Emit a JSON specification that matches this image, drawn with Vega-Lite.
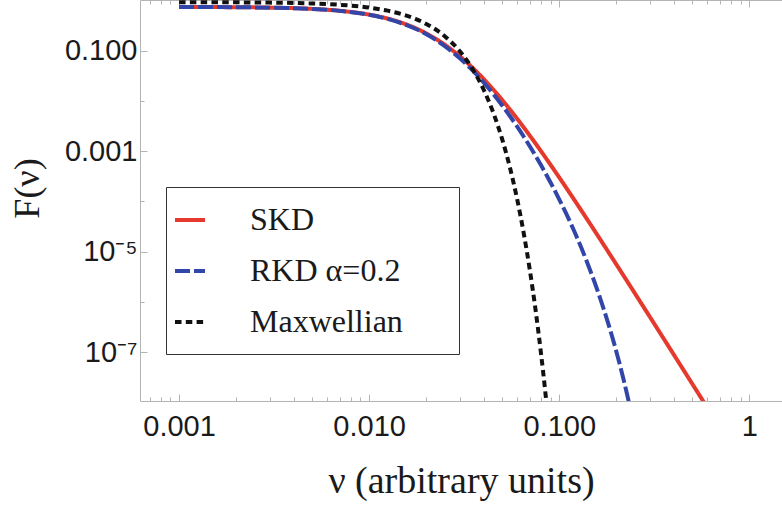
{
  "$schema": "https://vega.github.io/schema/vega-lite/v6.json",
  "autosize": {"type": "none"},
  "width": 642,
  "height": 401,
  "padding": {"left": 140, "top": 0, "right": 0, "bottom": 108},
  "background": "white",
  "config": {
    "view": {"stroke": null},
    "axis": {
      "domainColor": "#b4b4b4",
      "tickColor": "#b4b4b4",
      "grid": false,
      "labelFont": "Liberation Sans",
      "labelFontSize": 29,
      "labelColor": "#1a1a1a",
      "titleFont": "Liberation Serif",
      "titleFontWeight": "normal",
      "titleColor": "#1a1a1a"
    },
    "legend": {
      "orient": "none",
      "legendX": 26,
      "legendY": 187,
      "padding": 16,
      "strokeColor": "#333333",
      "fillColor": "white",
      "symbolType": "stroke",
      "symbolSize": 900,
      "symbolStrokeWidth": 4,
      "symbolOffset": -9,
      "labelFont": "Liberation Serif",
      "labelFontSize": 32,
      "labelColor": "#1a1a1a",
      "labelOffset": 43,
      "rowPadding": 18,
      "labelLimit": 400
    }
  },
  "datasets": {
    "curves": [
      {"v": 0.001, "F": 0.7372, "s": "SKD"},
      {"v": 0.002, "F": 0.7290, "s": "SKD"},
      {"v": 0.003, "F": 0.7156, "s": "SKD"},
      {"v": 0.005, "F": 0.6747, "s": "SKD"},
      {"v": 0.007, "F": 0.6191, "s": "SKD"},
      {"v": 0.01, "F": 0.5197, "s": "SKD"},
      {"v": 0.0125, "F": 0.4333, "s": "SKD"},
      {"v": 0.015, "F": 0.3518, "s": "SKD"},
      {"v": 0.0175, "F": 0.2799, "s": "SKD"},
      {"v": 0.02, "F": 0.2193, "s": "SKD"},
      {"v": 0.025, "F": 0.1309, "s": "SKD"},
      {"v": 0.03, "F": 0.07712, "s": "SKD"},
      {"v": 0.035, "F": 0.04563, "s": "SKD"},
      {"v": 0.04, "F": 0.02741, "s": "SKD"},
      {"v": 0.045, "F": 0.01681, "s": "SKD"},
      {"v": 0.05, "F": 0.010544, "s": "SKD"},
      {"v": 0.055, "F": 0.00677, "s": "SKD"},
      {"v": 0.06, "F": 0.004448, "s": "SKD"},
      {"v": 0.065, "F": 0.002986, "s": "SKD"},
      {"v": 0.07, "F": 0.0020454, "s": "SKD"},
      {"v": 0.075, "F": 0.0014285, "s": "SKD"},
      {"v": 0.08, "F": 0.0010151, "s": "SKD"},
      {"v": 0.085, "F": 0.0007331, "s": "SKD"},
      {"v": 0.09, "F": 0.0005374, "s": "SKD"},
      {"v": 0.1, "F": 0.00030077, "s": "SKD"},
      {"v": 0.12, "F": 0.00010789, "s": "SKD"},
      {"v": 0.14, "F": 4.4629e-5, "s": "SKD"},
      {"v": 0.16, "F": 2.0591e-5, "s": "SKD"},
      {"v": 0.18, "F": 1.0354e-5, "s": "SKD"},
      {"v": 0.2, "F": 5.5786e-6, "s": "SKD"},
      {"v": 0.25, "F": 1.4938e-6, "s": "SKD"},
      {"v": 0.3, "F": 5.061e-7, "s": "SKD"},
      {"v": 0.35, "F": 2.0212e-7, "s": "SKD"},
      {"v": 0.4, "F": 9.113e-8, "s": "SKD"},
      {"v": 0.5, "F": 2.4017e-8, "s": "SKD"},
      {"v": 0.6, "F": 8.067e-9, "s": "SKD"},
      {"v": 0.001, "F": 0.7372, "s": "RKD α=0.2"},
      {"v": 0.002, "F": 0.7287, "s": "RKD α=0.2"},
      {"v": 0.003, "F": 0.7149, "s": "RKD α=0.2"},
      {"v": 0.005, "F": 0.6731, "s": "RKD α=0.2"},
      {"v": 0.007, "F": 0.6161, "s": "RKD α=0.2"},
      {"v": 0.01, "F": 0.5146, "s": "RKD α=0.2"},
      {"v": 0.0125, "F": 0.4266, "s": "RKD α=0.2"},
      {"v": 0.015, "F": 0.344, "s": "RKD α=0.2"},
      {"v": 0.0175, "F": 0.2714, "s": "RKD α=0.2"},
      {"v": 0.02, "F": 0.2107, "s": "RKD α=0.2"},
      {"v": 0.025, "F": 0.123, "s": "RKD α=0.2"},
      {"v": 0.03, "F": 0.07048, "s": "RKD α=0.2"},
      {"v": 0.035, "F": 0.04037, "s": "RKD α=0.2"},
      {"v": 0.04, "F": 0.02336, "s": "RKD α=0.2"},
      {"v": 0.045, "F": 0.01373, "s": "RKD α=0.2"},
      {"v": 0.05, "F": 0.008212, "s": "RKD α=0.2"},
      {"v": 0.055, "F": 0.005003, "s": "RKD α=0.2"},
      {"v": 0.06, "F": 0.003103, "s": "RKD α=0.2"},
      {"v": 0.065, "F": 0.001957, "s": "RKD α=0.2"},
      {"v": 0.07, "F": 0.0012531, "s": "RKD α=0.2"},
      {"v": 0.075, "F": 0.0008139, "s": "RKD α=0.2"},
      {"v": 0.08, "F": 0.0005352, "s": "RKD α=0.2"},
      {"v": 0.085, "F": 0.000356, "s": "RKD α=0.2"},
      {"v": 0.09, "F": 0.0002391, "s": "RKD α=0.2"},
      {"v": 0.1, "F": 0.00011065, "s": "RKD α=0.2"},
      {"v": 0.12, "F": 2.556e-5, "s": "RKD α=0.2"},
      {"v": 0.14, "F": 6.286e-6, "s": "RKD α=0.2"},
      {"v": 0.16, "F": 1.5918e-6, "s": "RKD α=0.2"},
      {"v": 0.18, "F": 4.055e-7, "s": "RKD α=0.2"},
      {"v": 0.2, "F": 1.0218e-7, "s": "RKD α=0.2"},
      {"v": 0.22, "F": 2.5155e-8, "s": "RKD α=0.2"},
      {"v": 0.24, "F": 5.994e-9, "s": "RKD α=0.2"},
      {"v": 0.001, "F": 0.9177, "s": "Maxwellian"},
      {"v": 0.002, "F": 0.9108, "s": "Maxwellian"},
      {"v": 0.003, "F": 0.8995, "s": "Maxwellian"},
      {"v": 0.005, "F": 0.8643, "s": "Maxwellian"},
      {"v": 0.007, "F": 0.8139, "s": "Maxwellian"},
      {"v": 0.01, "F": 0.7165, "s": "Maxwellian"},
      {"v": 0.0125, "F": 0.6225, "s": "Maxwellian"},
      {"v": 0.015, "F": 0.5242, "s": "Maxwellian"},
      {"v": 0.0175, "F": 0.4279, "s": "Maxwellian"},
      {"v": 0.02, "F": 0.3384, "s": "Maxwellian"},
      {"v": 0.025, "F": 0.1928, "s": "Maxwellian"},
      {"v": 0.03, "F": 0.09697, "s": "Maxwellian"},
      {"v": 0.035, "F": 0.04303, "s": "Maxwellian"},
      {"v": 0.04, "F": 0.01685, "s": "Maxwellian"},
      {"v": 0.045, "F": 0.005824, "s": "Maxwellian"},
      {"v": 0.05, "F": 0.001776, "s": "Maxwellian"},
      {"v": 0.055, "F": 0.000478, "s": "Maxwellian"},
      {"v": 0.06, "F": 0.00011354, "s": "Maxwellian"},
      {"v": 0.065, "F": 2.379e-5, "s": "Maxwellian"},
      {"v": 0.07, "F": 4.402e-6, "s": "Maxwellian"},
      {"v": 0.075, "F": 7.18e-7, "s": "Maxwellian"},
      {"v": 0.08, "F": 1.0354e-7, "s": "Maxwellian"},
      {"v": 0.085, "F": 1.317e-8, "s": "Maxwellian"},
      {"v": 0.087, "F": 5.57e-9, "s": "Maxwellian"}
    ],
    "topaxis": [{"v": 0.001}]
  },
  "resolve": {"axis": {"x": "independent"}},
  "layer": [
    {
      "data": {"name": "curves"},
      "mark": {"type": "line", "clip": true, "strokeWidth": 4, "strokeCap": "butt", "interpolate": "monotone"},
      "encoding": {
        "x": {
          "field": "v", "type": "quantitative",
          "scale": {"type": "log", "domain": [0.000623, 1.486], "nice": false},
          "axis": {
            "orient": "bottom",
            "title": "ν (arbitrary units)",
            "titleFontSize": 38,
            "titlePadding": 18,
            "values": [0.0007, 0.0008, 0.0009, 0.001, 0.002, 0.003, 0.004, 0.005, 0.006, 0.007, 0.008, 0.009, 0.01, 0.02, 0.03, 0.04, 0.05, 0.06, 0.07, 0.08, 0.09, 0.1, 0.2, 0.3, 0.4, 0.5, 0.6, 0.7, 0.8, 0.9, 1],
            "labelExpr": "datum.value == 0.001 ? '0.001' : datum.value == 0.01 ? '0.010' : datum.value == 0.1 ? '0.100' : datum.value == 1 ? '1' : ''",
            "tickSize": {"condition": {"test": "indexof([0.001, 0.01, 0.1, 1], datum.value) >= 0", "value": -7}, "value": -4},
            "labelPadding": 18,
            "labelFlush": false,
            "labelOverlap": false
          }
        },
        "y": {
          "field": "F", "type": "quantitative",
          "scale": {"type": "log", "domain": [1.08e-8, 1.014], "nice": false},
          "axis": {
            "orient": "left",
            "title": "F(ν)",
            "titleFontSize": 36,
            "titlePadding": 18,
            "titleY": 188,
            "values": [1e-7, 1e-6, 1e-5, 1e-4, 0.001, 0.01, 0.1],
            "labelExpr": "datum.value == 0.1 ? '0.100' : datum.value == 0.001 ? '0.001' : datum.value == 1e-5 ? '10⁻⁵' : datum.value == 1e-7 ? '10⁻⁷' : ''",
            "tickSize": {"condition": {"test": "indexof([0.1, 0.001, 1e-5, 1e-7], datum.value) >= 0", "value": -7}, "value": -4},
            "labelPadding": 10,
            "labelOverlap": false
          }
        },
        "color": {
          "field": "s", "type": "nominal",
          "scale": {"domain": ["SKD", "RKD α=0.2", "Maxwellian"], "range": ["#e5392d", "#3246a9", "#111111"]},
          "legend": {"title": null, "labelExpr": "datum.label + '\u00a0\u00a0\u00a0\u00a0\u00a0\u200b'"}
        },
        "strokeDash": {
          "field": "s", "type": "nominal",
          "scale": {"domain": ["SKD", "RKD α=0.2", "Maxwellian"], "range": [[1, 0], [15, 4], [6.5, 4.3]]},
          "legend": {"title": null, "labelExpr": "datum.label + '\u00a0\u00a0\u00a0\u00a0\u00a0\u200b'"}
        }
      }
    },
    {
      "data": {"name": "topaxis"},
      "mark": {"type": "rule", "opacity": 0},
      "encoding": {
        "x": {
          "field": "v", "type": "quantitative",
          "axis": {
            "orient": "top",
            "title": null,
            "labels": false,
            "values": [0.0007, 0.0008, 0.0009, 0.001, 0.002, 0.003, 0.004, 0.005, 0.006, 0.007, 0.008, 0.009, 0.01, 0.02, 0.03, 0.04, 0.05, 0.06, 0.07, 0.08, 0.09, 0.1, 0.2, 0.3, 0.4, 0.5, 0.6, 0.7, 0.8, 0.9, 1],
            "tickSize": {"condition": {"test": "indexof([0.001, 0.01, 0.1, 1], datum.value) >= 0", "value": -7}, "value": -4}
          }
        }
      }
    }
  ]
}
